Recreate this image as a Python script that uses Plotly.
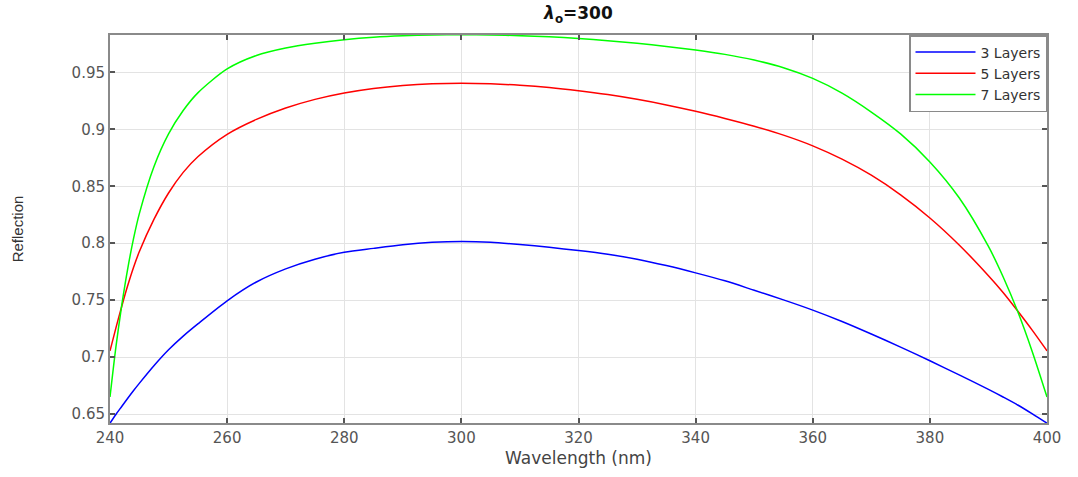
import plotly.graph_objects as go

wavelength = [240, 241, 242, 243, 244, 245, 247.5, 250, 252.5, 255, 260, 265, 270, 275, 280,
              285, 290, 295, 300, 305, 310, 315, 320, 325, 330, 335, 340, 345, 350, 355, 360,
              365, 370, 375, 380, 385, 390, 392.5, 395, 397.5, 400]

refl_3 = [0.642, 0.6497, 0.6567, 0.6637, 0.6705, 0.677, 0.6925, 0.7065, 0.7185, 0.7292, 0.7495,
          0.766, 0.7775, 0.786, 0.792, 0.7955, 0.7987, 0.8008, 0.8016, 0.8009, 0.7989, 0.7964,
          0.7936, 0.7903, 0.786, 0.7804, 0.774, 0.767, 0.7587, 0.7503, 0.7413, 0.7313, 0.7203,
          0.7088, 0.6968, 0.6844, 0.6717, 0.665, 0.658, 0.6502, 0.642]

refl_5 = [0.7055, 0.7255, 0.7445, 0.7624, 0.7785, 0.7925, 0.8209, 0.8441, 0.8622, 0.8759, 0.8956,
          0.9087, 0.9187, 0.9263, 0.9319, 0.9359, 0.9385, 0.9400, 0.9405, 0.9400, 0.9387, 0.9367,
          0.9339, 0.9305, 0.9263, 0.9214, 0.9158, 0.9095, 0.9027, 0.8949, 0.8855, 0.8738, 0.8597,
          0.8425, 0.8222, 0.7985, 0.7715, 0.7568, 0.7405, 0.7235, 0.7055]

refl_7 = [0.665, 0.7085, 0.7454, 0.7769, 0.8036, 0.8258, 0.8672, 0.896, 0.9165, 0.932, 0.953,
          0.9648, 0.9713, 0.9755, 0.9786, 0.9808, 0.9821, 0.9828, 0.983, 0.9828, 0.9822, 0.9812,
          0.9797, 0.9778, 0.9755, 0.9728, 0.9696, 0.9658, 0.9608, 0.9541, 0.9447, 0.9318, 0.9152,
          0.896, 0.8714, 0.8399, 0.7972, 0.7706, 0.740, 0.7046, 0.665]

series_names = ["3 Layers", "5 Layers", "7 Layers"]
series_colors = ["#0000ff", "#ff0000", "#00ff00"]

x_ticks = [240, 260, 280, 300, 320, 340, 360, 380, 400]
y_ticks = [0.65, 0.7, 0.75, 0.8, 0.85, 0.9, 0.95]
y_tick_text = ["0.65", "0.7", "0.75", "0.8", "0.85", "0.9", "0.95"]

fig = go.Figure()
for name, vals, col in zip(series_names, [refl_3, refl_5, refl_7], series_colors):
    fig.add_trace(go.Scatter(x=wavelength, y=vals, mode="lines", name=name,
                             line=dict(color=col, width=1.5, shape="spline", smoothing=0.8)))

axis_common = dict(showline=True, linecolor="#8a8a8a", linewidth=2, mirror="ticks",
                   ticks="inside", ticklen=5, tickcolor="#555555", tickwidth=1.5,
                   showgrid=True, gridcolor="#e3e3e3", gridwidth=1, zeroline=False,
                   tickfont=dict(family="DejaVu Sans", size=15, color="#555555"))

fig.update_layout(
    width=1078, height=477,
    margin=dict(l=110, r=31, t=35, b=47),
    paper_bgcolor="white", plot_bgcolor="white",
    title=dict(text="<b><i>λ</i><sub>o</sub>=300</b>", x=0.5366, xanchor="center", y=0.985,
               yanchor="top", font=dict(family="DejaVu Sans", size=17, color="#111111")),
    xaxis=dict(range=[240, 400], tickvals=x_ticks,
               title=dict(text="Wavelength (nm)", standoff=6,
                          font=dict(family="DejaVu Sans", size=17, color="#444444")),
               **axis_common),
    yaxis=dict(range=[0.6422, 0.9828], tickvals=y_ticks, ticktext=y_tick_text,
               title=dict(text="Reflection", standoff=44,
                          font=dict(family="Liberation Sans", size=15, color="#333333")),
               **axis_common),
    legend=dict(x=1, y=1, xanchor="right", yanchor="top", bgcolor="white",
                bordercolor="#8a8a8a", borderwidth=1.5, tracegroupgap=0,
                font=dict(family="DejaVu Sans", size=14, color="#333333"),
                itemwidth=60),
    showlegend=True,
)

fig.write_html("out.html")
